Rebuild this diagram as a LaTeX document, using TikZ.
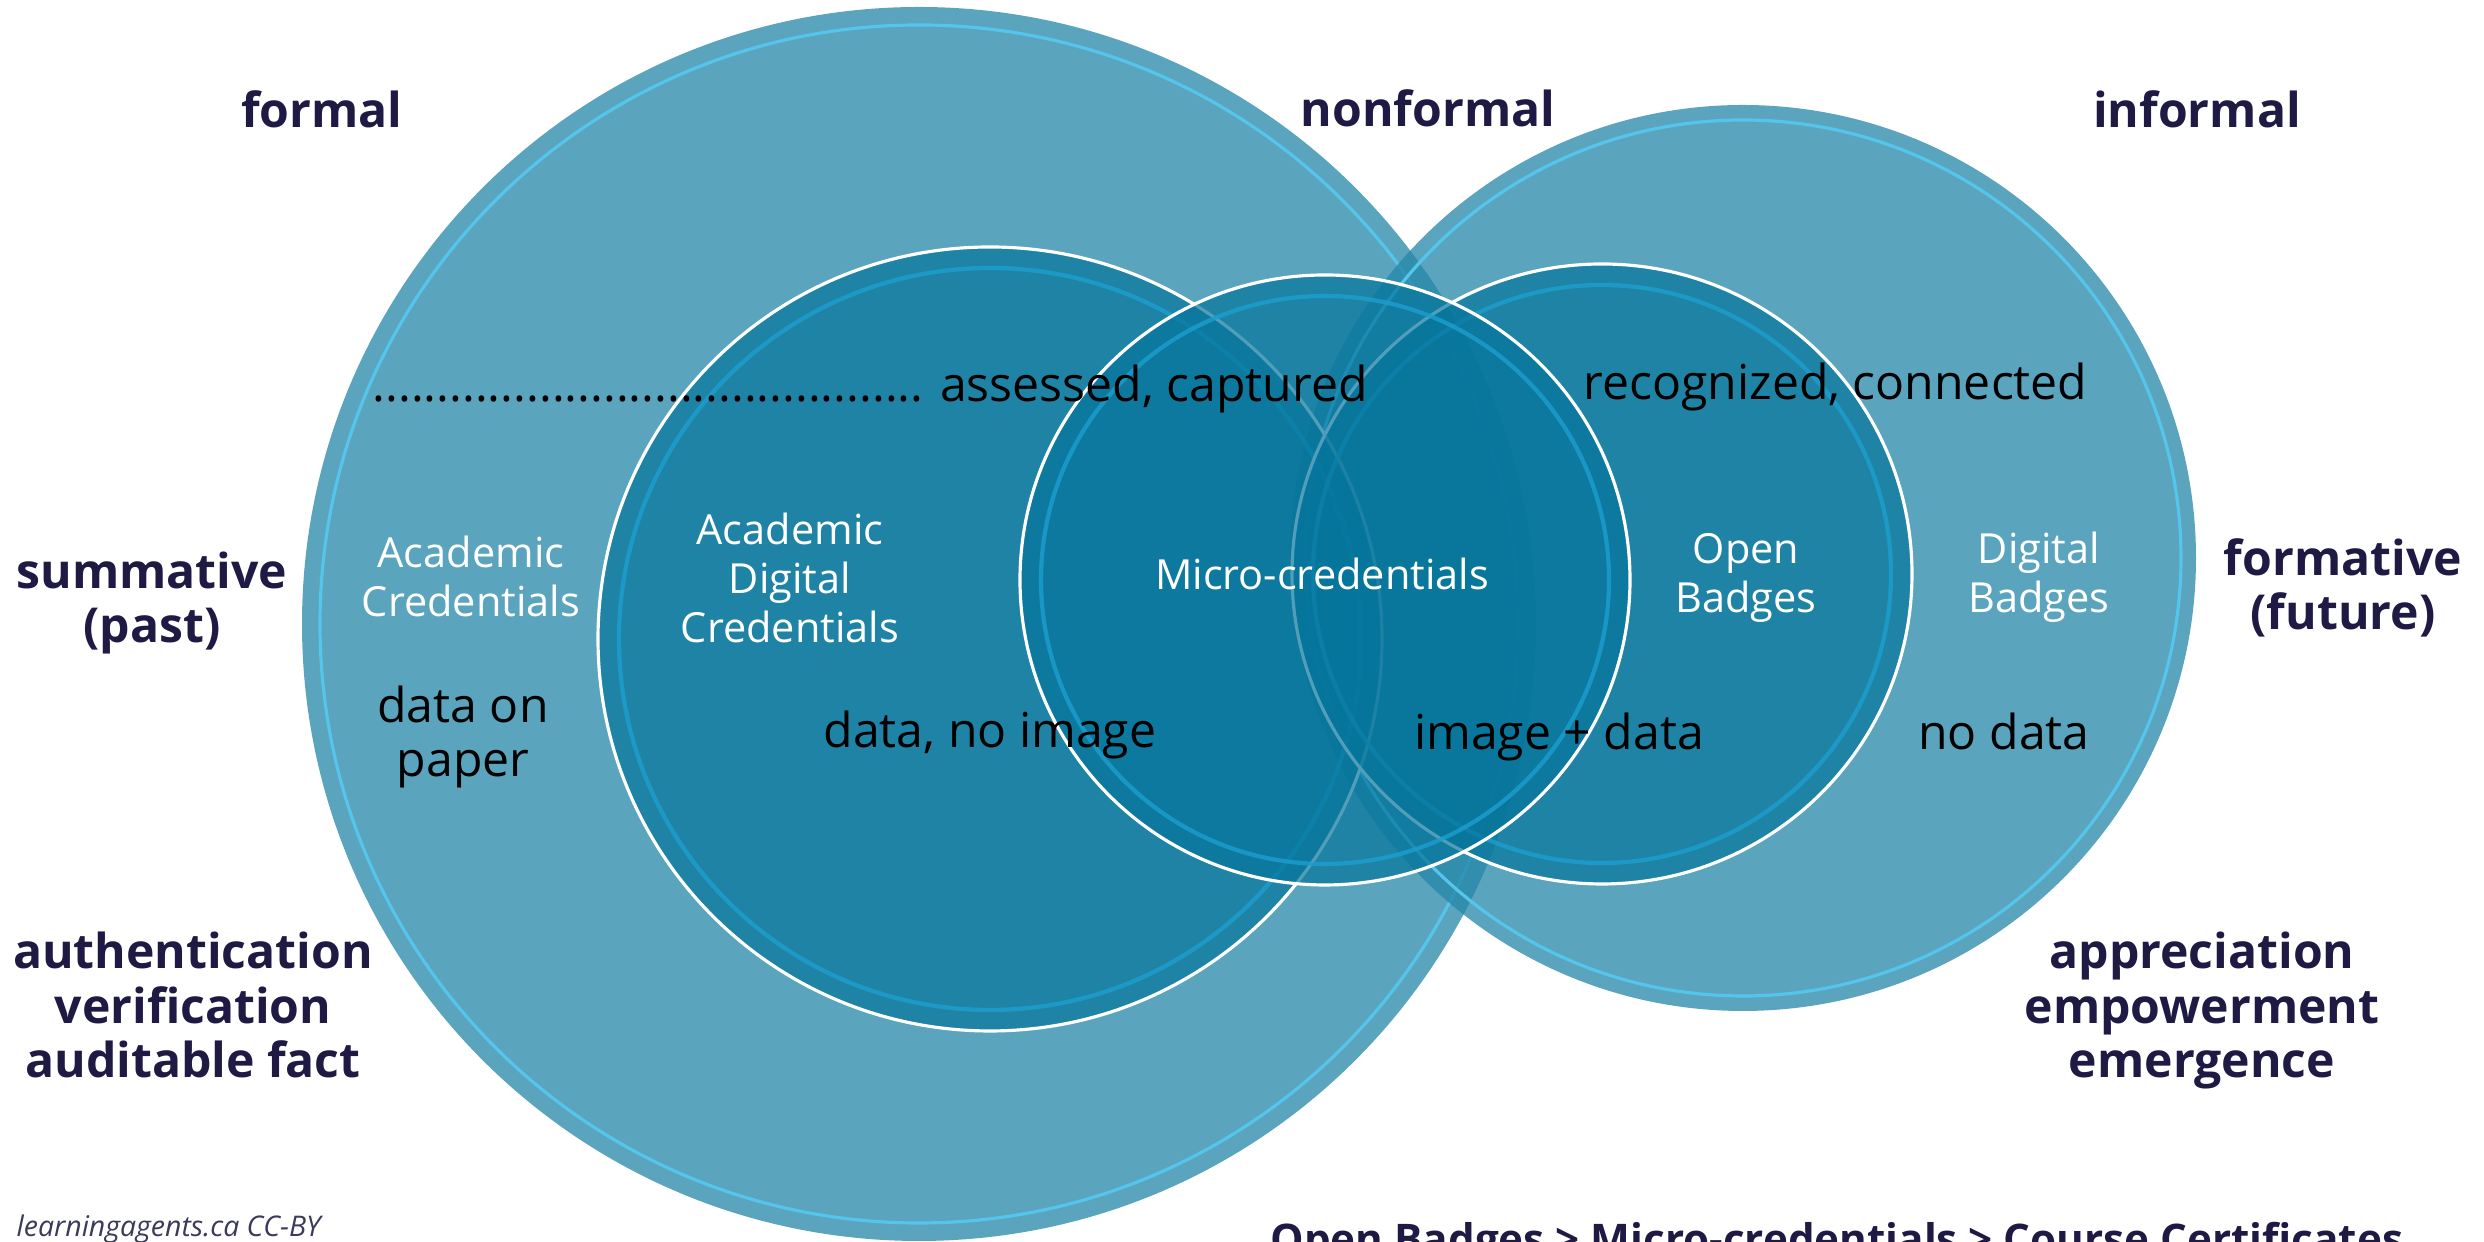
\documentclass[tikz,border=0pt]{standalone}
\usepackage{fontspec}
\setmainfont{Open Sans}
\usetikzlibrary{positioning}
\definecolor{bigfill}{HTML}{2386A8}
\definecolor{midfill}{HTML}{06759C}
\definecolor{bigring}{HTML}{56C5EC}
\definecolor{midring}{HTML}{1C9FD0}
\definecolor{headcol}{HTML}{1F1A44}
\definecolor{creditcol}{HTML}{3C3A5C}
\tikzset{
  outer/.style      = {fill=bigfill, fill opacity=0.75},
  inner/.style      = {fill=midfill, fill opacity=0.7},
  outer ring/.style = {draw=bigring, line width=0.9pt},
  inner ring/.style = {draw=midring, line width=1.2pt, draw opacity=0.8},
  rim/.style        = {draw=white, line width=0.9pt},
  heading/.style    = {font=\bfseries\fontsize{13.7}{15.6}\selectfont, text=headcol, align=center, anchor=base, inner sep=0pt},
  kind/.style       = {font=\fontsize{11.8}{14}\selectfont, text=white, align=center, anchor=base, inner sep=0pt},
  note/.style       = {font=\fontsize{13.7}{15.6}\selectfont, text=black, align=center, anchor=base, inner sep=0pt},
  credit/.style     = {font=\itshape\fontsize{8.1}{10}\selectfont, text=creditcol, anchor=base west, inner sep=0pt}
}
\begin{document}
\begin{tikzpicture}
  \useasboundingbox (0,0) rectangle (24.84,12.42);
  \clip (0,0) rectangle (24.84,12.42);
  % centres of the circles
  \coordinate (formalc) at (9.19,6.18);
  \coordinate (informalc) at (17.43,6.84);
  \coordinate (acadc) at (9.90,6.03);
  \coordinate (openc) at (16.02,6.68);
  \coordinate (microc) at (13.25,6.62);

  % the two big circles
  \fill[outer] (formalc) circle (6.17);
  \draw[outer ring] (formalc) circle (5.99);
  \fill[outer] (informalc) circle (4.53);
  \draw[outer ring] (informalc) circle (4.38);
  % the three inner circles
  \foreach \c/\r in {acadc/3.92, openc/3.10, microc/3.05} {
    \fill[inner] (\c) circle (\r);
    \draw[rim] (\c) circle (\r);
    \draw[inner ring] (\c) circle ({\r-0.21});
  }

  \node[heading] (formal) at (3.22,11.14) {formal};
  \node[heading] (nonformal) at (14.28,11.15) {nonformal};
  \node[heading] (informal) at (21.97,11.14) {informal};
  \node[heading] (summative) at (1.52,5.99) {summative\\(past)};
  \node[heading] (formative) at (23.43,6.12) {formative\\(future)};
  \node[heading] (auth) at (1.93,1.64) {authentication\\verification\\auditable fact};
  \node[heading] (appr) at (22.02,1.64) {appreciation\\empowerment\\emergence};

  \node[kind] (acad) at (4.71,6.25) {Academic\\Credentials};
  \node[kind] (acaddig) at (7.90,5.99) {Academic\\Digital\\Credentials};
  \node[kind] (micro) at (13.22,6.52) {Micro-credentials};
  \node[kind] (open) at (17.46,6.29) {Open\\Badges};
  \node[kind] (digital) at (20.39,6.29) {Digital\\Badges};

  \node[note] (paper) at (4.63,4.65) {data on\\paper};
  \node[note] (noimage) at (9.90,4.94) {data, no image};
  \node[note] (imgdata) at (15.59,4.92) {image + data};
  \node[note] (nodata) at (20.04,4.92) {no data};
  \node[note, anchor=base west] (assessed) at (3.72,8.40) {........................................... assessed, captured};
  \node[note, anchor=base west] (recog) at (15.83,8.42) {recognized, connected};

  \node[heading, anchor=base west, font=\bfseries\fontsize{12}{14}\selectfont] (ladder) at (12.70,-0.13) {Open Badges > Micro-credentials > Course Certificates};
  \node[credit] (credit) at (0.16,0.05) {learningagents.ca CC-BY};
\end{tikzpicture}
\end{document}
